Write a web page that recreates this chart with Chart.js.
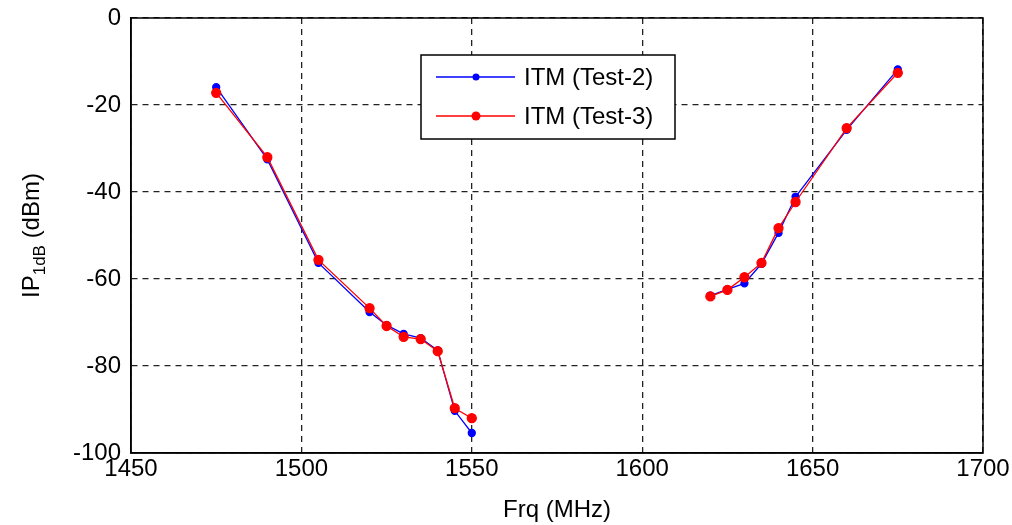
<!DOCTYPE html>
<html>
<head>
<meta charset="utf-8">
<script src="https://cdn.jsdelivr.net/npm/chart.js@4/dist/chart.umd.min.js"></script>
<style>
  html, body { margin: 0; padding: 0; background: #fff; }
  #wrap { width: 1012px; height: 525px; }
</style>
</head>
<body>
<div id="wrap"><canvas id="ipChart"></canvas></div>
<script>
// values (MHz / dBm)
const freqLow = [1475, 1490, 1505, 1520, 1525, 1530, 1535, 1540, 1545, 1550];
const test2Low = [-15.9, -32.5, -56.3, -67.6, -70.6, -72.6, -73.6, -76.4, -90.3, -95.4];
const test3Low = [-17.2, -32.0, -55.6, -66.7, -70.8, -73.3, -73.8, -76.6, -89.7, -92.0];

const freqHigh = [1620, 1625, 1630, 1635, 1640, 1645, 1660, 1675];
const test2High = [-63.8, -62.4, -61.0, -56.5, -49.4, -41.1, -25.7, -11.8];
const test3High = [-64.0, -62.5, -59.6, -56.3, -48.3, -42.3, -25.3, -12.6];

const seriesNames = ['ITM (Test-2)', 'ITM (Test-3)'];
const xTicks = [1450, 1500, 1550, 1600, 1650, 1700];
const yTicks = [-100, -80, -60, -40, -20, 0];

const FONT = 'Arial, "Liberation Sans", sans-serif';

// two bands with a break between them
function toPoints(lowY, highY) {
    const pts = freqLow.map((f, i) => ({ x: f, y: lowY[i] }));
    pts.push({ x: 1585, y: null });
    freqHigh.forEach((f, i) => pts.push({ x: f, y: highY[i] }));
    return pts;
}

const boxAndLabels = {
    id: 'boxAndLabels',
    beforeDatasetsDraw(chart) {
        const { ctx, chartArea: a } = chart;
        ctx.save();
        ctx.strokeStyle = '#000';
        ctx.lineWidth = 1.5;
        ctx.setLineDash([]);
        ctx.strokeRect(a.left, a.top, a.right - a.left, a.bottom - a.top);
        ctx.restore();
    },
    afterDraw(chart) {
        const { ctx, chartArea: a } = chart;
        ctx.save();

        // y axis title with subscript
        const big = '24px ' + FONT, small = '17px ' + FONT;
        ctx.font = big;
        const w1 = ctx.measureText('IP').width;
        const w3 = ctx.measureText(' (dBm)').width;
        ctx.font = small;
        const w2 = ctx.measureText('1dB').width;
        const total = w1 + w2 + w3;
        ctx.translate(32, (a.top + a.bottom) / 2);
        ctx.rotate(-Math.PI / 2);
        ctx.fillStyle = '#000';
        ctx.textBaseline = 'middle';
        ctx.textAlign = 'left';
        let x = -total / 2;
        ctx.font = big;
        ctx.fillText('IP', x, 0);
        x += w1;
        ctx.font = small;
        ctx.fillText('1dB', x, 8);
        x += w2;
        ctx.font = big;
        ctx.fillText(' (dBm)', x, 0);
        ctx.restore();

        // legend box
        const lx = 421, ly = 55, lw = 254, lh = 84;
        ctx.save();
        ctx.fillStyle = '#fff';
        ctx.fillRect(lx, ly, lw, lh);
        ctx.strokeStyle = '#000';
        ctx.lineWidth = 1.5;
        ctx.strokeRect(lx, ly, lw, lh);
        const rows = [77, 116];
        chart.data.datasets.forEach((ds, i) => {
            const y = rows[i];
            ctx.strokeStyle = ds.borderColor;
            ctx.lineWidth = ds.borderWidth;
            ctx.beginPath();
            ctx.moveTo(436, y);
            ctx.lineTo(515, y);
            ctx.stroke();
            ctx.fillStyle = ds.pointBackgroundColor;
            ctx.beginPath();
            ctx.arc(476, y, ds.pointRadius, 0, Math.PI * 2);
            ctx.fill();
            ctx.fillStyle = '#000';
            ctx.font = '24px ' + FONT;
            ctx.textBaseline = 'middle';
            ctx.fillText(ds.label, 524, y + 1);
        });
        ctx.restore();
    }
};

new Chart(document.getElementById('ipChart'), {
    type: 'line',
    data: {
        datasets: [
            {
                label: seriesNames[0],
                data: toPoints(test2Low, test2High),
                borderColor: '#0000ff',
                backgroundColor: '#0000ff',
                pointBackgroundColor: '#0000ff',
                pointBorderColor: '#0000ff',
                borderWidth: 1.3,
                pointRadius: 3.5,
                order: 1
            },
            {
                label: seriesNames[1],
                data: toPoints(test3Low, test3High),
                borderColor: '#ff0000',
                backgroundColor: '#ff0000',
                pointBackgroundColor: '#ff0000',
                pointBorderColor: '#ff0000',
                borderWidth: 1.3,
                pointRadius: 4.5,
                order: 0
            }
        ]
    },
    options: {
        responsive: true,
        maintainAspectRatio: false,
        animation: false,
        spanGaps: false,
        layout: { padding: { left: 0, right: 29, top: 18, bottom: 0 } },
        plugins: {
            legend: { display: false },
            tooltip: { enabled: false }
        },
        scales: {
            x: {
                type: 'linear',
                min: 1450,
                max: 1700,
                afterBuildTicks: (s) => { s.ticks = xTicks.map(v => ({ value: v })); },
                afterFit: (s) => { s.height = 72; },
                ticks: {
                    color: '#000',
                    font: { family: FONT, size: 24 },
                    padding: 2,
                    maxRotation: 0,
                    callback: (v) => String(v)
                },
                grid: { color: '#222', lineWidth: 1.3, drawTicks: false },
                border: { color: '#000', width: 1.5, dash: [6, 5] },
                title: {
                    display: true,
                    text: 'Frq (MHz)',
                    color: '#000',
                    font: { family: FONT, size: 24 },
                    padding: { top: 0, bottom: 0 }
                }
            },
            y: {
                type: 'linear',
                min: -100,
                max: 0,
                afterBuildTicks: (s) => { s.ticks = yTicks.map(v => ({ value: v })); },
                afterFit: (s) => { s.width = 131; s.paddingTop = 0; s.paddingBottom = 0; },
                ticks: {
                    color: '#000',
                    font: { family: FONT, size: 24 },
                    padding: 10
                },
                grid: { color: '#222', lineWidth: 1.3, drawTicks: false },
                border: { color: '#000', width: 1.5, dash: [6, 5] }
            }
        }
    },
    plugins: [boxAndLabels]
});
</script>
</body>
</html>
